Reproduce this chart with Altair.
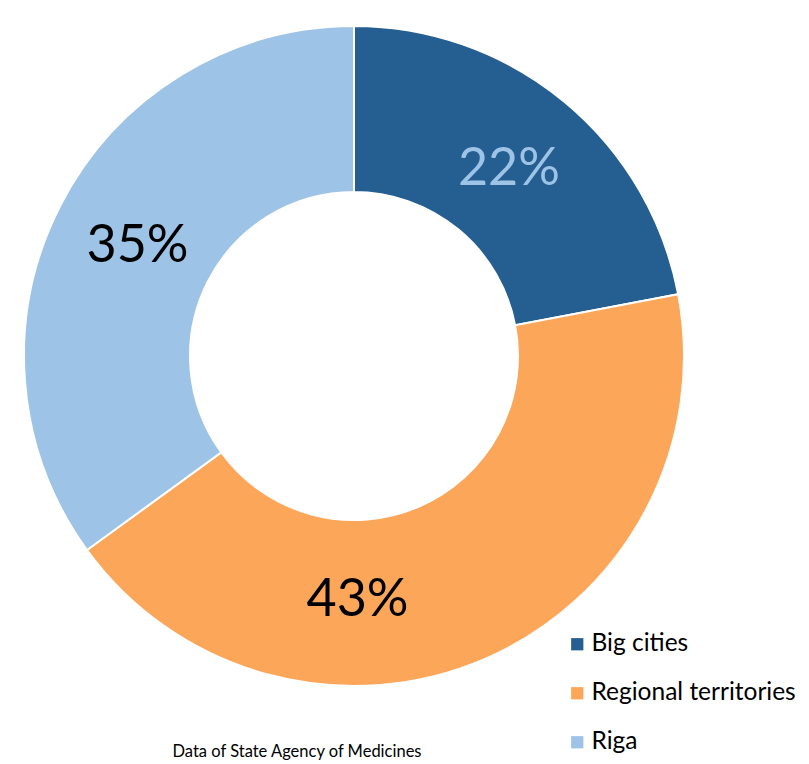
import altair as alt
import pandas as pd

categories = ["Big cities", "Regional territories", "Riga"]
shares = [22, 43, 35]
labels = ["22%", "43%", "35%"]
order = [1, 2, 3]
colors = ["#255E91", "#FCA65A", "#9DC3E6"]
label_colors = ["#9DC3E6", "#000000", "#000000"]
caption = "Data of State Agency of Medicines"

df = pd.DataFrame({"category": categories, "share": shares, "label": labels,
                   "ord": order, "lc": label_colors})

CX, CY = 346, 348
FONT = "Lato"

arcs = alt.Chart(df).mark_arc(innerRadius=164, outerRadius=330, stroke="white", strokeWidth=2).encode(
    theta=alt.Theta("share:Q", stack=True),
    order=alt.Order("ord:Q"),
    x=alt.value(CX), y=alt.value(CY),
    color=alt.Color("category:N",
                    scale=alt.Scale(domain=categories, range=colors),
                    legend=alt.Legend(title=None, orient="none", legendX=557, legendY=624,
                                      symbolType="square", symbolSize=150,
                                      symbolStrokeWidth=0,
                                      labelFont=FONT, labelFontSize=24.5, labelColor="#000000",
                                      rowPadding=24, labelOffset=2, labelLimit=300)),
)

tbase = alt.Chart(df).transform_window(
    cum="sum(share)", sort=[alt.SortField("ord")]
).transform_calculate(
    mid="datum.cum - datum.share / 2"
).encode(
    theta=alt.Theta("mid:Q", stack=False, scale=alt.Scale(domain=[0, 100])),
    x=alt.value(CX), y=alt.value(CY),
    text="label:N",
    color=alt.Color("lc:N", scale=None),
)

txt_main = tbase.mark_text(radius=243, font=FONT, fontSize=52).transform_filter(
    alt.datum.category != "Regional territories")

txt_mid = tbase.mark_text(radius=243, font=FONT, fontSize=52, dx=-93, dy=21).transform_filter(
    alt.datum.category == "Regional territories")

cap = alt.Chart(alt.Data(values=[{"t": caption}])).mark_text(
    font=FONT, fontSize=16.5, color="#000000"
).encode(x=alt.value(289), y=alt.value(744), text="t:N")

chart = alt.layer(arcs, txt_main, txt_mid, cap).properties(
    width=793, height=756, padding=0, autosize="none"
).configure_view(stroke=None)

chart.save("out.html", embed_options={"renderer": "svg", "actions": False})
